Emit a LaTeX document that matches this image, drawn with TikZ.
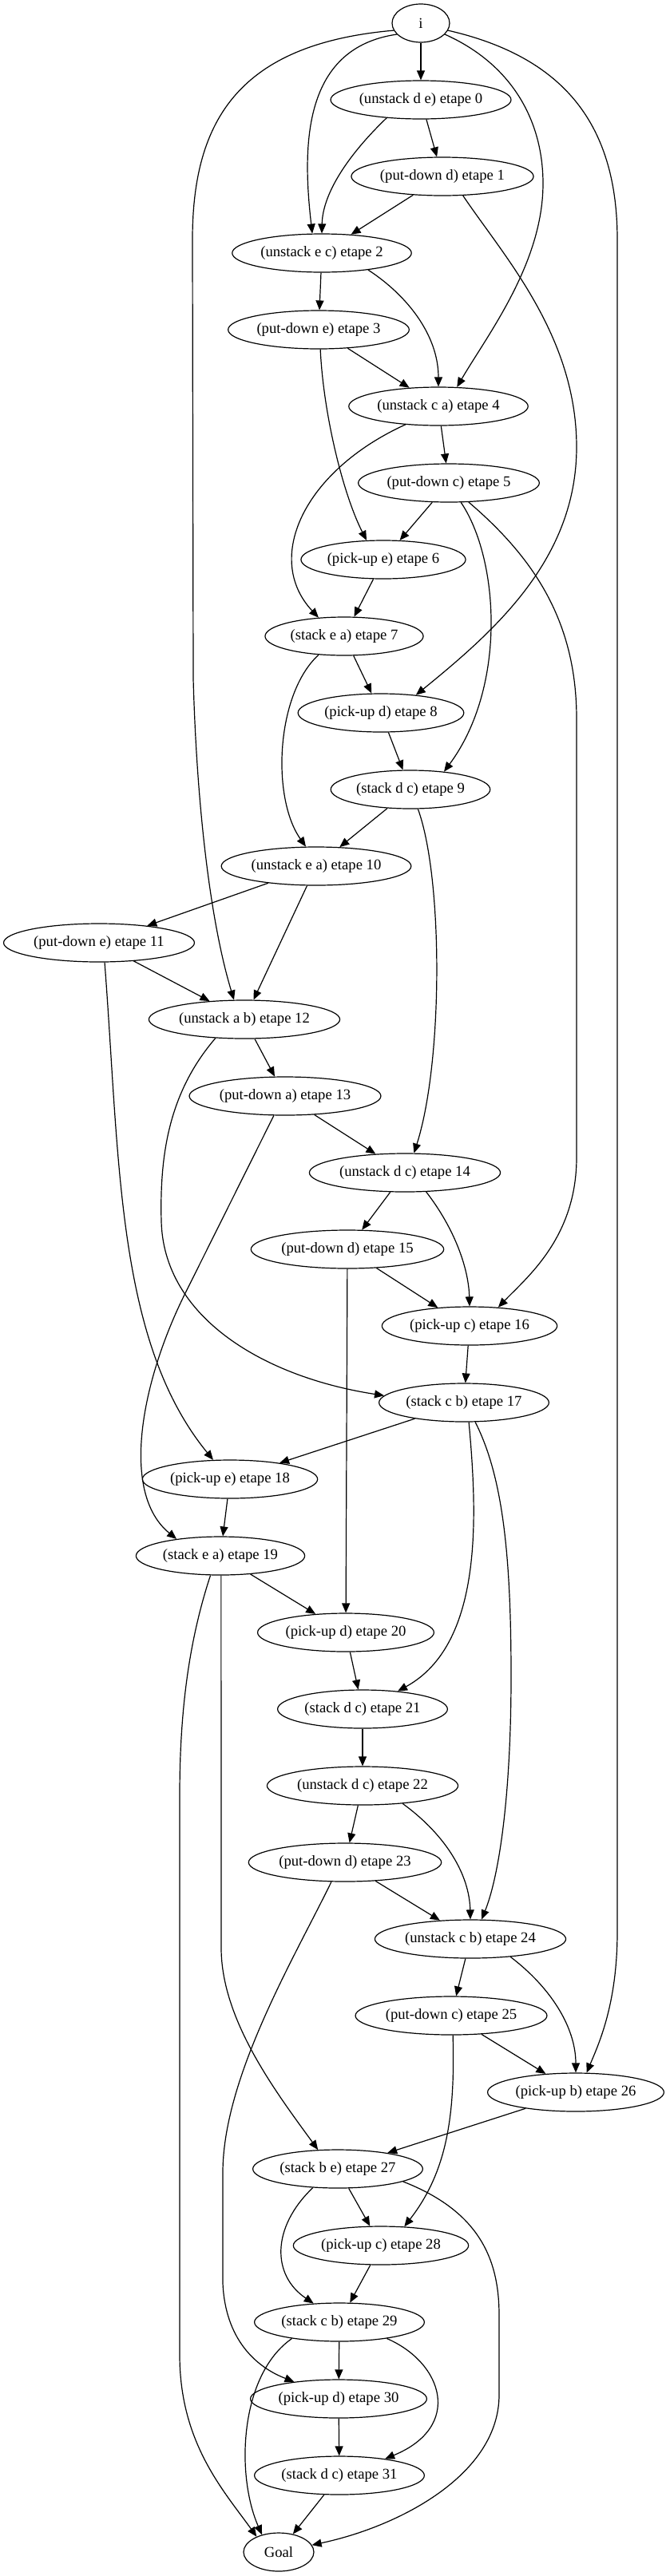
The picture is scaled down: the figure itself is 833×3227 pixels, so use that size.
\documentclass[tikz,border=0pt]{standalone}
\usepackage{fontspec}
\setmainfont{Liberation Serif}
\usetikzlibrary{arrows.meta, shapes.geometric}
\tikzset{
  every picture/.style={line width=0.9pt},
  act/.style={draw, ellipse, inner xsep=2pt, inner ysep=1pt, minimum height=36pt, minimum width=54pt, font=\fontsize{14}{16}\selectfont},
  arrow/.style={-{Triangle[length=9pt, width=7.5pt]}, draw=black},
}

\begin{document}
\begin{tikzpicture}[x=0.75pt, y=-0.75pt]
  \useasboundingbox (0,0) rectangle (833,3227);
  \node[act] (i) at (527,29) {i};
  \node[act] (e0) at (527,125) {(unstack d e) etape 0};
  \node[act] (e1) at (554,221) {(put-down d) etape 1};
  \node[act] (e2) at (403,317) {(unstack e c) etape 2};
  \node[act] (e3) at (399,413) {(put-down e) etape 3};
  \node[act] (e4) at (549,509) {(unstack c a) etape 4};
  \node[act] (e5) at (562,605) {(put-down c) etape 5};
  \node[act] (e6) at (480,701) {(pick-up e) etape 6};
  \node[act] (e7) at (431,797) {(stack e a) etape 7};
  \node[act] (e8) at (477,893) {(pick-up d) etape 8};
  \node[act] (e9) at (514,989) {(stack d c) etape 9};
  \node[act] (e10) at (396,1085) {(unstack e a) etape 10};
  \node[act] (e11) at (124,1181) {(put-down e) etape 11};
  \node[act] (e12) at (306,1277) {(unstack a b) etape 12};
  \node[act] (e13) at (357,1373) {(put-down a) etape 13};
  \node[act] (e14) at (507,1469) {(unstack d c) etape 14};
  \node[act] (e15) at (435,1565) {(put-down d) etape 15};
  \node[act] (e16) at (588,1661) {(pick-up c) etape 16};
  \node[act] (e17) at (581,1757) {(stack c b) etape 17};
  \node[act] (e18) at (288,1853) {(pick-up e) etape 18};
  \node[act] (e19) at (276,1949) {(stack e a) etape 19};
  \node[act] (e20) at (433,2045) {(pick-up d) etape 20};
  \node[act] (e21) at (454,2141) {(stack d c) etape 21};
  \node[act] (e22) at (454,2237) {(unstack d c) etape 22};
  \node[act] (e23) at (432,2333) {(put-down d) etape 23};
  \node[act] (e24) at (589,2429) {(unstack c b) etape 24};
  \node[act] (e25) at (565,2525) {(put-down c) etape 25};
  \node[act] (e26) at (721,2621) {(pick-up b) etape 26};
  \node[act] (e27) at (423,2717) {(stack b e) etape 27};
  \node[act] (e28) at (477,2813) {(pick-up c) etape 28};
  \node[act] (e29) at (425,2909) {(stack c b) etape 29};
  \node[act] (e30) at (424,3005) {(pick-up d) etape 30};
  \node[act] (e31) at (425,3101) {(stack d c) etape 31};
  \node[act, minimum width=66pt] (goal) at (349,3197) {Goal};
  \draw[arrow] (i) -- (e0);
  \draw[arrow] (i.205) .. controls (380,60) and (378,180) .. (e2.116);
  \draw[arrow] (i.195) .. controls (300,55) and (241,150) .. (241,300) -- (242,850) .. controls (246,1000) and (262,1150) .. (e12.118);
  \draw[arrow] (i.335) .. controls (640,80) and (680,150) .. (680,230) .. controls (680,330) and (610,420) .. (e4.46);
  \draw[arrow] (i.345) .. controls (700,70) and (773,150) .. (773,300) -- (773,2420) .. controls (773,2510) and (750,2560) .. (e26.61);
  \draw[arrow] (e0) -- (e1);
  \draw[arrow] (e0.208) .. controls (440,190) and (404,240) .. (e2.90);
  \draw[arrow] (e1) -- (e2);
  \draw[arrow] (e1.317) .. controls (630,320) and (722,420) .. (722,560) .. controls (722,700) and (620,790) .. (e8.27);
  \draw[arrow] (e2) -- (e3);
  \draw[arrow] (e2.340) .. controls (510,370) and (549,420) .. (e4.90);
  \draw[arrow] (e3) -- (e4);
  \draw[arrow] (e3.275) .. controls (405,520) and (430,620) .. (e6.131);
  \draw[arrow] (e4) -- (e5);
  \draw[arrow] (e4.209) .. controls (380,590) and (330,700) .. (e7.144);
  \draw[arrow] (e5) -- (e6);
  \draw[arrow] (e5.302) .. controls (625,700) and (635,860) .. (e9.28);
  \draw[arrow] (e5.316) .. controls (670,700) and (722,780) .. (722,900) -- (722,1450) .. controls (722,1550) and (660,1600) .. (e16.33);
  \draw[arrow] (e6) -- (e7);
  \draw[arrow] (e7) -- (e8);
  \draw[arrow] (e7.216) .. controls (345,870) and (340,1000) .. (e10.118);
  \draw[arrow] (e8) -- (e9);
  \draw[arrow] (e9) -- (e10);
  \draw[arrow] (e9.291) .. controls (555,1100) and (555,1330) .. (e14.65);
  \draw[arrow] (e10) -- (e11);
  \draw[arrow] (e10) -- (e12);
  \draw[arrow] (e11) -- (e12);
  \draw[arrow] (e11.286) .. controls (150,1450) and (145,1680) .. (e18.131);
  \draw[arrow] (e12) -- (e13);
  \draw[arrow] (e12.213) .. controls (210,1370) and (200,1450) .. (202,1530) .. controls (205,1650) and (330,1725) .. (e17.175);
  \draw[arrow] (e13) -- (e14);
  \draw[arrow] (e13.240) -- (232,1620) .. controls (177,1730) and (150,1870) .. (e19.159);
  \draw[arrow] (e14) -- (e15);
  \draw[arrow] (e14.318) .. controls (570,1540) and (587,1590) .. (e16.90);
  \draw[arrow] (e15) -- (e16.150);
  \draw[arrow] (e15) -- (e20);
  \draw[arrow] (e16) -- (e17);
  \draw[arrow] (e17) -- (e18);
  \draw[arrow] (e17.284) .. controls (598,1900) and (605,2060) .. (e21.27);
  \draw[arrow] (e17.300) .. controls (630,1850) and (640,1950) .. (640,2100) .. controls (640,2250) and (625,2350) .. (e24.60);
  \draw[arrow] (e18) -- (e19);
  \draw[arrow] (e19) -- (e20);
  \draw[arrow] (e19.272) -- (277,2440) .. controls (277,2530) and (345,2620) .. (e27.136);
  \draw[arrow] (e19.243) .. controls (235,2060) and (225,2150) .. (225,2250) -- (225,2950) .. controls (225,3060) and (280,3120) .. (goal.145);
  \draw[arrow] (e20) -- (e21);
  \draw[arrow] (e21) -- (e22);
  \draw[arrow] (e22) -- (e23);
  \draw[arrow] (e22.336) .. controls (560,2300) and (588,2350) .. (e24.90);
  \draw[arrow] (e23) -- (e24);
  \draw[arrow] (e23.235) .. controls (370,2450) and (280,2600) .. (279,2720) -- (279,2860) .. controls (282,2930) and (320,2965) .. (e30.159);
  \draw[arrow] (e24) -- (e25);
  \draw[arrow] (e24.336) .. controls (690,2490) and (721,2540) .. (e26.90);
  \draw[arrow] (e25) -- (e26);
  \draw[arrow] (e25.275) .. controls (570,2650) and (560,2720) .. (e28.39);
  \draw[arrow] (e26) -- (e27);
  \draw[arrow] (e27) -- (e28);
  \draw[arrow] (e27.217) .. controls (340,2790) and (340,2850) .. (e29.144);
  \draw[arrow] (e27.349) .. controls (600,2770) and (625,2830) .. (625,2900) -- (625,3000) .. controls (625,3100) and (500,3165) .. (goal.12);
  \draw[arrow] (e28) -- (e29);
  \draw[arrow] (e29) -- (e30);
  \draw[arrow] (e29.341) .. controls (555,2960) and (580,3040) .. (e31.20);
  \draw[arrow] (e29.199) .. controls (300,2975) and (295,3100) .. (goal.134);
  \draw[arrow] (e30) -- (e31);
  \draw[arrow] (e31) -- (goal);
\end{tikzpicture}
\end{document}
